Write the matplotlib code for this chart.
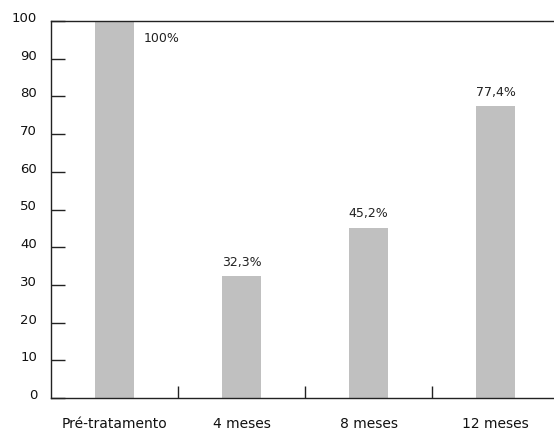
import matplotlib
matplotlib.use("Agg")
import matplotlib.pyplot as plt
from matplotlib.transforms import ScaledTranslation

plt.rcParams['font.family'] = ['DejaVu Sans']

categories = ["Pré-tratamento", "4 meses", "8 meses", "12 meses"]
values = [100, 32.3, 45.2, 77.4]
value_labels = ["100%", "32,3%", "45,2%", "77,4%"]
yticks = [0, 10, 20, 30, 40, 50, 60, 70, 80, 90, 100]

W, H = 554, 431
dpi = 100
fig = plt.figure(figsize=(W / dpi, H / dpi), dpi=dpi)
left, right = 51 / W, 559 / W
top, bottom = 1 - 22 / H, 1 - 399 / H
ax = fig.add_axes([left, bottom, right - left, top - bottom])

x = list(range(len(categories)))
ax.bar(x, values, width=0.3, color="#c0c0c0", zorder=1)

ax.set_xlim(-0.5, len(categories) - 0.5)
ax.set_ylim(0, 100)

# value annotations
for i, (v, lab) in enumerate(zip(values, value_labels)):
    if v >= 100:
        ax.annotate(lab, (i + 0.15, v), xytext=(10, -17), textcoords="offset pixels",
                    ha="left", va="center", fontsize=9, color="#222222")
    else:
        ax.annotate(lab, (i, v), xytext=(0, 15), textcoords="offset pixels",
                    ha="center", va="center", fontsize=9, color="#222222")

# axes frame
for s in ["top", "bottom", "left"]:
    ax.spines[s].set_color("#222222")
    ax.spines[s].set_linewidth(1.0)
ax.spines["right"].set_visible(False)

ax.set_yticks(yticks)
ax.set_yticklabels([str(t) for t in yticks])
ax.tick_params(axis="y", direction="in", length=10, width=1, color="#222222",
               pad=10, labelsize=9.5, labelcolor="#111111")
off = ScaledTranslation(0, 5 / dpi, fig.dpi_scale_trans)
for lbl in ax.get_yticklabels():
    lbl.set_transform(lbl.get_transform() + off)

ax.set_xticks([i + 0.5 for i in range(len(categories) - 1)], minor=False)
ax.set_xticklabels([])
ax.tick_params(axis="x", which="major", direction="in", length=9, width=1, color="#222222")
ax.set_xticks(x, minor=True)
ax.set_xticklabels(categories, minor=True)
ax.tick_params(axis="x", which="minor", length=0, pad=13, labelsize=10, labelcolor="#111111")

fig.savefig("out.png", dpi=dpi)
